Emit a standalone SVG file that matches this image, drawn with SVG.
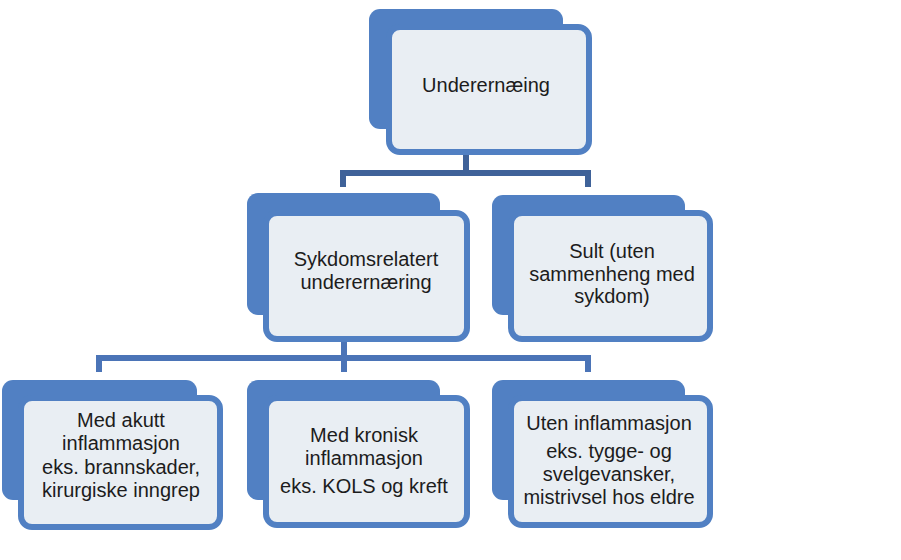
<svg xmlns="http://www.w3.org/2000/svg" width="901" height="560" viewBox="0 0 901 560">
<style>
.back{fill:#5180C3;}
.front{fill:#E9EEF3;stroke:#5180C3;stroke-width:6;}
.t{font-family:"Liberation Sans",Arial,sans-serif;font-size:20px;fill:#1c1c1c;text-anchor:middle;}
.c1{fill:none;stroke:#3F6299;stroke-width:6;}
.c2{fill:none;stroke:#4B74B7;stroke-width:6;}
</style>
<rect width="901" height="560" fill="#ffffff"/>
<g id="connectors">
<path class="c1" d="M466,155 V173 M343,187 V173 H588 V187"/>
<path class="c2" d="M344,342 V372 M99,372 V358 H588 V372"/>
</g>
<g id="node-underernaering">
<rect class="back" x="369" y="9" width="194" height="120" rx="11"/>
<rect class="front" x="389" y="27" width="200" height="125" rx="11"/>
<text class="t" x="486" y="92">Underernæing</text>
</g>
<g id="node-sykdomsrelatert">
<rect class="back" x="247" y="193" width="193" height="122" rx="11"/>
<rect class="front" x="266" y="213" width="201" height="126" rx="11"/>
<text class="t" x="366" y="266">Sykdomsrelatert</text>
<text class="t" x="366" y="289">underernæring</text>
</g>
<g id="node-sult">
<rect class="back" x="492" y="195" width="193" height="120" rx="11"/>
<rect class="front" x="511" y="213" width="199" height="126" rx="11"/>
<text class="t" x="612" y="258">Sult (uten</text>
<text class="t" x="612" y="281">sammenheng med</text>
<text class="t" x="612" y="303">sykdom)</text>
</g>
<g id="node-akutt">
<rect class="back" x="2" y="380" width="195" height="120" rx="11"/>
<rect class="front" x="21" y="398" width="199" height="129" rx="11"/>
<text class="t" x="121" y="427">Med akutt</text>
<text class="t" x="121" y="450">inflammasjon</text>
<text class="t" x="121" y="474">eks. brannskader,</text>
<text class="t" x="121" y="497">kirurgiske inngrep</text>
</g>
<g id="node-kronisk">
<rect class="back" x="247" y="380" width="193" height="120" rx="11"/>
<rect class="front" x="266" y="398" width="201" height="127" rx="11"/>
<text class="t" x="364" y="442">Med kronisk</text>
<text class="t" x="364" y="465">inflammasjon</text>
<text class="t" x="364" y="493">eks. KOLS og kreft</text>
</g>
<g id="node-uten">
<rect class="back" x="492" y="380" width="193" height="120" rx="11"/>
<rect class="front" x="511" y="398" width="199" height="127" rx="11"/>
<text class="t" x="609" y="430">Uten inflammasjon</text>
<text class="t" x="609" y="458">eks. tygge- og</text>
<text class="t" x="609" y="481">svelgevansker,</text>
<text class="t" x="609" y="504">mistrivsel hos eldre</text>
</g>
</svg>
